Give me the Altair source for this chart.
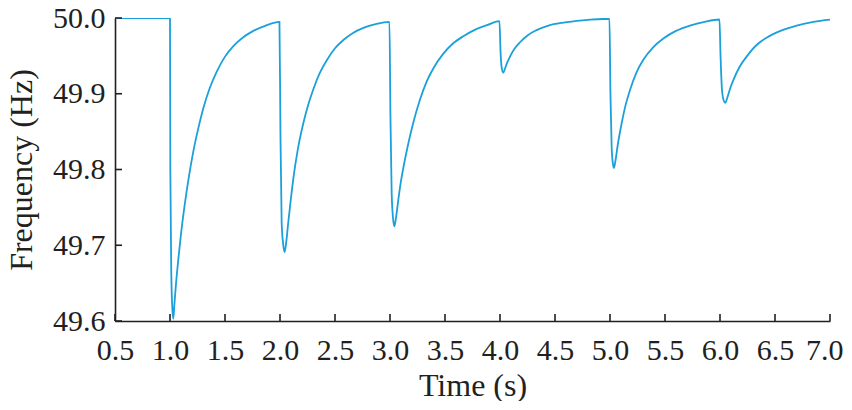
import altair as alt
import pandas as pd

# Time (s) and frequency (Hz) samples
time_s = [
    0.5, 1.0,
    1.003, 1.012, 1.022, 1.030, 1.040, 1.055, 1.076, 1.10, 1.136, 1.17, 1.212, 1.255,
    1.303, 1.36, 1.424, 1.50, 1.576, 1.66, 1.758, 1.87, 1.995,
    2.004, 2.015, 2.03, 2.042, 2.055, 2.075, 2.10, 2.121, 2.16, 2.212, 2.26, 2.303,
    2.36, 2.424, 2.50, 2.576, 2.66, 2.758, 2.87, 2.995,
    3.004, 3.015, 3.028, 3.039, 3.052, 3.08, 3.10, 3.121, 3.16, 3.212, 3.27, 3.333, 3.40,
    3.485, 3.57, 3.667, 3.78, 3.89, 3.995,
    4.005, 4.015, 4.03, 4.045, 4.065, 4.091, 4.13, 4.182, 4.25, 4.333, 4.44, 4.576,
    4.75, 4.995,
    5.004, 5.015, 5.026, 5.036, 5.048, 5.07, 5.106, 5.14, 5.182, 5.24, 5.303, 5.39,
    5.485, 5.6, 5.727, 5.86, 5.995,
    6.005, 6.018, 6.034, 6.048, 6.065, 6.09, 6.121, 6.18, 6.242, 6.33, 6.424, 6.55,
    6.697, 6.85, 7.0,
]
freq_hz = [
    50.0, 50.0,
    49.80, 49.66, 49.615, 49.603, 49.622, 49.650, 49.682, 49.715, 49.756, 49.789, 49.824, 49.853,
    49.881, 49.907, 49.929, 49.949, 49.963, 49.974, 49.983, 49.990, 49.995,
    49.85, 49.73, 49.70, 49.691, 49.702, 49.730, 49.763, 49.788, 49.825, 49.861, 49.887, 49.906,
    49.927, 49.944, 49.960, 49.971, 49.980, 49.987, 49.992, 49.995,
    49.87, 49.77, 49.735, 49.725, 49.734, 49.765, 49.785, 49.802, 49.830, 49.862, 49.891, 49.916, 49.935,
    49.953, 49.966, 49.976, 49.985, 49.991, 49.996,
    49.955, 49.935, 49.928, 49.933, 49.941, 49.949, 49.959, 49.968, 49.977, 49.984, 49.990, 49.994,
    49.997, 49.999,
    49.90, 49.83, 49.808, 49.802, 49.810, 49.832, 49.861, 49.884, 49.905, 49.928, 49.945, 49.961,
    49.973, 49.983, 49.990, 49.995, 49.998,
    49.95, 49.905, 49.891, 49.888, 49.894, 49.906, 49.918, 49.936, 49.949, 49.964, 49.974, 49.983,
    49.990, 49.995, 49.998,
]

x_ticks = [0.5, 1.0, 1.5, 2.0, 2.5, 3.0, 3.5, 4.0, 4.5, 5.0, 5.5, 6.0, 6.5, 7.0]
y_ticks = [49.6, 49.7, 49.8, 49.9, 50.0]

W, H = 715, 303
FONT = "Times New Roman, Liberation Serif, serif"
INK = "#231F20"
LINE = "#1BA0DB"
TICK_LEN = 7

df = pd.DataFrame({"t": time_s, "f": freq_hz})
xt = pd.DataFrame({"t": x_ticks})
yt = pd.DataFrame({"f": y_ticks})

xscale = alt.Scale(domain=[0.5, 7.0], nice=False, zero=False)
yscale = alt.Scale(domain=[49.6, 50.0], nice=False, zero=False)

last_tick = "datum.value >= 6.99"

x_axis = alt.Axis(
    values=x_ticks, format=".1f", ticks=False, grid=False,
    domainColor=INK, domainWidth=1.6,
    labelFont=FONT, labelFontSize=30, labelColor=INK, labelPadding=14,
    labelFlush=False,
    labelAlign={"condition": {"test": last_tick, "value": "right"}, "value": "center"},
    labelOffset={"condition": {"test": last_tick, "value": 13}, "value": 0},
    title="Time (s)", titleFont=FONT, titleFontSize=32, titleFontWeight="normal",
    titleColor=INK, titleBaseline="alphabetic", titleY=74, titleX=W / 2,
    titleAlign="center",
)
y_axis = alt.Axis(
    values=y_ticks, format=".1f", ticks=False, grid=False,
    domainColor=INK, domainWidth=1.6,
    labelFont=FONT, labelFontSize=30, labelColor=INK, labelPadding=10,
    labelFlush=False,
    title="Frequency (Hz)", titleFont=FONT, titleFontSize=32, titleFontWeight="normal",
    titleColor=INK, titleAngle=270, titleBaseline="alphabetic", titleAlign="center",
    titleX=-84, titleY=H / 2,
)

line = alt.Chart(df).mark_line(
    color=LINE, strokeWidth=1.8, interpolate="monotone", clip=True
).encode(
    x=alt.X("t:Q", scale=xscale, axis=x_axis),
    y=alt.Y("f:Q", scale=yscale, axis=y_axis),
)

xtick_layer = alt.Chart(xt).mark_rule(color=INK, strokeWidth=1.6).encode(
    x=alt.X("t:Q", scale=xscale, axis=x_axis),
    y=alt.value(H),
    y2=alt.value(H - TICK_LEN),
)

ytick_layer = alt.Chart(yt).mark_rule(color=INK, strokeWidth=1.6).encode(
    y=alt.Y("f:Q", scale=yscale, axis=y_axis),
    x=alt.value(0),
    x2=alt.value(TICK_LEN),
)

chart = alt.layer(line, xtick_layer, ytick_layer).properties(
    width=W,
    height=H,
    padding={"left": 107, "top": 10, "right": 13, "bottom": 80},
    autosize=alt.AutoSizeParams(type="none"),
    background="white",
).configure_view(stroke=None)

chart.save("out.html", embed_options={"renderer": "svg", "actions": False})
